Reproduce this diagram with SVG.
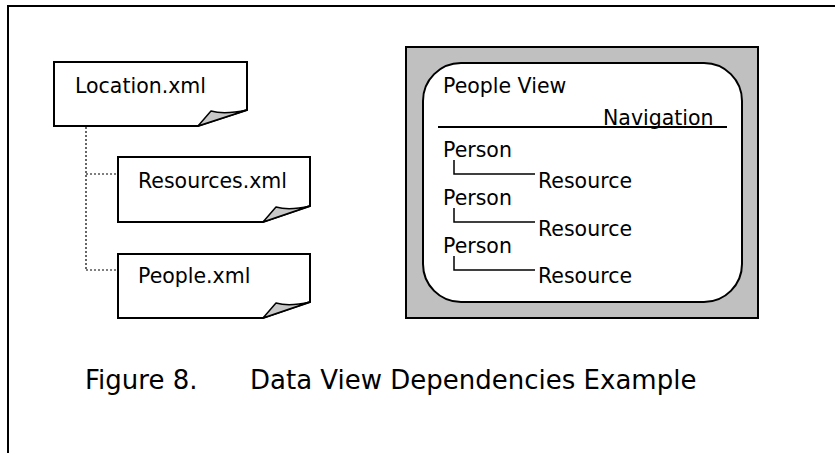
<svg xmlns="http://www.w3.org/2000/svg" width="835" height="453" viewBox="0 0 835 453">
<style>
text{font-family:"DejaVu Sans","Verdana",sans-serif;font-size:20.5px;fill:#000}
.cap{font-size:26px}
.doc{fill:#fff;stroke:#000;stroke-width:2}
.curl{fill:#c8c8c8;stroke:#000;stroke-width:1.5;stroke-linejoin:round}
.dot{fill:none;stroke:#000;stroke-width:1.2;stroke-dasharray:2 2}
.tree{fill:none;stroke:#000;stroke-width:1.5}
</style>
<rect x="0" y="0" width="835" height="453" fill="#fff"/>
<path d="M8,453 V6 H835" fill="none" stroke="#000" stroke-width="2"/>
<g id="connectors">
<path class="dot" d="M86,127 V270 M86,174 H118 M86,270 H118"/>
</g>
<g id="location">
<path class="doc" d="M54,62 H247 V110 L198,126 H54 Z"/>
<path class="curl" d="M198,126 L211,111 Q224,115 247,110 Z"/>
<text x="75" y="93">Location.xml</text>
</g>
<g id="resources">
<path class="doc" d="M118,157 H310 V206 L263,222 H118 Z"/>
<path class="curl" d="M263,222 L276,207 Q289,211 310,206 Z"/>
<text x="138" y="188">Resources.xml</text>
</g>
<g id="people">
<path class="doc" d="M118,254 H310 V302 L263,318 H118 Z"/>
<path class="curl" d="M263,318 L276,303 Q289,307 310,302 Z"/>
<text x="138" y="283">People.xml</text>
</g>
<g id="peopleview">
<rect x="406" y="47" width="352" height="271" fill="#c0c0c0" stroke="#000" stroke-width="2"/>
<rect x="423" y="63" width="319" height="239" rx="38" ry="38" fill="#fff" stroke="#000" stroke-width="2"/>
<line x1="438" y1="127" x2="727" y2="127" stroke="#000" stroke-width="2"/>
<text x="443" y="93">People View</text>
<text x="603" y="125">Navigation</text>
<text x="443" y="157">Person</text>
<text x="538" y="188">Resource</text>
<text x="443" y="205">Person</text>
<text x="538" y="236">Resource</text>
<text x="443" y="253">Person</text>
<text x="538" y="283">Resource</text>
<path class="tree" d="M454,160 V174 H535 M454,208 V222 H535 M454,256 V270 H535"/>
</g>
<g id="caption">
<text class="cap" x="85" y="389">Figure 8.</text>
<text class="cap" x="250" y="389">Data View Dependencies Example</text>
</g>
</svg>
